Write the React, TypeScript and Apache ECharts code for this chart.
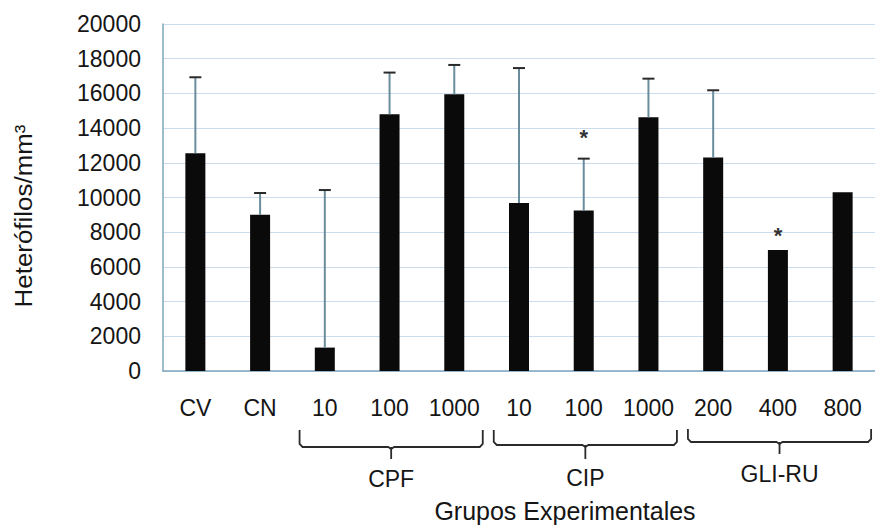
import React, { useEffect, useRef } from "react";
import * as echarts from "echarts";

const categories = ["CV", "CN", "10", "100", "1000", "10", "100", "1000", "200", "400", "800"];
const means = [12550, 9000, 1350, 14800, 15950, 9680, 9250, 14620, 12300, 6970, 10300];
const upperErrors: (number | null)[] = [16930, 10260, 10430, 17200, 17640, 17460, 12240, 16850, 16180, null, null];
const asterisks: (number | null)[] = [null, null, null, null, null, null, 13800, null, null, 8150, null];
const groupNames = ["CPF", "CIP", "GLI-RU"];
const groupRanges = [[2, 4], [5, 7], [8, 10]];
const yTicks = { min: 0, max: 20000, interval: 2000 };

const FONT = "'Liberation Sans', Arial, sans-serif";
const TEXT = "#151515";

export default function App() {
  const ref = useRef<HTMLDivElement>(null);
  useEffect(() => {
    if (!ref.current) return;
    const chart = echarts.init(ref.current, null, { renderer: "svg" });
    const errData = upperErrors
      .map((u, i) => (u == null ? null : [i, means[i], u]))
      .filter((d) => d != null);
    const astData = asterisks
      .map((a, i) => (a == null ? null : [i, a]))
      .filter((d) => d != null);
    chart.setOption({
      animation: false,
      grid: { left: 163, right: 0, top: 24, bottom: 154 },
      xAxis: {
        type: "category",
        data: categories,
        axisLine: { lineStyle: { color: "#7fa6bf", width: 1.5 } },
        axisTick: { show: false },
        axisLabel: { color: TEXT, fontFamily: FONT, fontSize: 23, margin: 25, interval: 0 },
      },
      yAxis: {
        type: "value",
        min: yTicks.min,
        max: yTicks.max,
        interval: yTicks.interval,
        axisLine: { show: true, lineStyle: { color: "#7fa6bf", width: 1.5 } },
        axisTick: { show: false },
        splitLine: { lineStyle: { color: "#cadced", width: 1.2 } },
        axisLabel: {
          color: TEXT,
          fontFamily: FONT,
          fontSize: 23,
          margin: 22,
          formatter: (v: number) => String(v),
        },
      },
      series: [
        {
          type: "bar",
          data: means,
          barWidth: 20,
          itemStyle: { color: "#0a0a0a" },
        },
        {
          type: "custom",
          data: errData,
          z: 5,
          renderItem: (params: any, api: any) => {
            const x = api.value(0);
            const p0 = api.coord([x, api.value(1)]);
            const p1 = api.coord([x, api.value(2)]);
            return {
              type: "group",
              children: [
                {
                  type: "line",
                  shape: { x1: p0[0], y1: p0[1], x2: p1[0], y2: p1[1] },
                  style: { stroke: "#6a8d9c", lineWidth: 2 },
                },
                {
                  type: "line",
                  shape: { x1: p1[0] - 6, y1: p1[1], x2: p1[0] + 6, y2: p1[1] },
                  style: { stroke: "#2a2a2a", lineWidth: 2 },
                },
              ],
            };
          },
        },
        {
          type: "custom",
          data: astData,
          z: 6,
          renderItem: (params: any, api: any) => {
            const p = api.coord([api.value(0), api.value(1)]);
            return {
              type: "text",
              x: p[0],
              y: p[1] + 6,
              style: {
                text: "*",
                fontSize: 22,
                fontWeight: "bold",
                fontFamily: FONT,
                fill: "#333",
                align: "center",
                verticalAlign: "middle",
              },
            };
          },
        },
      ],
    });

    const catW = 712 / categories.length;
    const graphics: any[] = [];
    const tops = [430, 430, 429];
    const hs = [447, 445, 442];
    const tickEnds = [459, 459, 454];
    const labelYs = [479, 478, 474];
    groupRanges.forEach((r, gi) => {
      const xa = chart.convertToPixel({ xAxisIndex: 0 }, r[0]) as number;
      const xb = chart.convertToPixel({ xAxisIndex: 0 }, r[1]) as number;
      const x1 = xa - catW * 0.39;
      const x2 = xb + catW * 0.44;
      const cx = (x1 + x2) / 2;
      const t = tops[gi];
      const h = hs[gi];
      graphics.push({
        type: "polyline",
        shape: {
          points: [
            [x1, t],
            [x1, h - 3],
            [x1 + 3, h],
            [cx - 3, h],
            [cx, h + 2],
            [cx + 3, h],
            [x2 - 3, h],
            [x2, h - 3],
            [x2, t],
          ],
        },
        style: { stroke: "#2a2a2a", lineWidth: 1.8, fill: null },
      });
      graphics.push({
        type: "line",
        shape: { x1: cx, y1: h, x2: cx, y2: tickEnds[gi] },
        style: { stroke: "#2a2a2a", lineWidth: 1.8 },
      });
      graphics.push({
        type: "text",
        x: cx,
        y: labelYs[gi],
        style: {
          text: groupNames[gi],
          fontSize: 23,
          fontFamily: FONT,
          fill: TEXT,
          align: "center",
          verticalAlign: "middle",
        },
      });
    });
    graphics.push({
      type: "text",
      x: 565,
      y: 511,
      style: {
        text: "Grupos Experimentales",
        fontSize: 25,
        fontFamily: FONT,
        fill: TEXT,
        align: "center",
        verticalAlign: "middle",
      },
    });
    graphics.push({
      type: "text",
      x: 23,
      y: 216,
      rotation: Math.PI / 2,
      scaleX: 1.08,
      style: {
        text: "Heterófilos/mm³",
        fontSize: 24,
        fontFamily: FONT,
        fill: TEXT,
        align: "center",
        verticalAlign: "middle",
      },
    });
    chart.setOption({ graphic: graphics });
    return () => chart.dispose();
  }, []);
  return <div ref={ref} style={{ width: 875, height: 525, position: "absolute", left: 0, top: 0 }} />;
}
